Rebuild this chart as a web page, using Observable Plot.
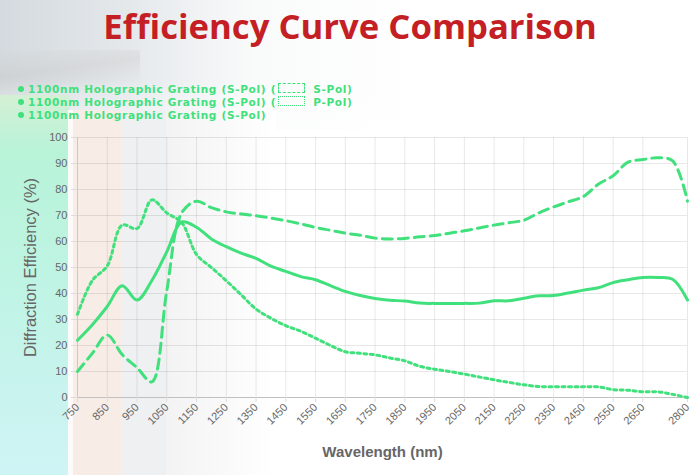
<!DOCTYPE html>
<html>
<head>
<meta charset="utf-8">
<script src="https://cdn.jsdelivr.net/npm/d3@7"></script>
<script src="https://cdn.jsdelivr.net/npm/@observablehq/plot@0.6"></script>
<style>
  html, body { margin: 0; padding: 0; }
  body { width: 700px; height: 475px; position: relative; overflow: hidden; background: #fff; font-family: "Open Sans", sans-serif; }
  .bg { position: absolute; }
  #title { position: absolute; left: 0; width: 700px; top: 4px; text-align: center; color: #c51f26; font-weight: 700; font-size: 34.7px; line-height: 44px; }
  #legend { position: absolute; left: 18px; top: 83px; color: #40e07c; font-family: "DejaVu Sans", sans-serif; font-weight: 700; font-size: 10.5px; letter-spacing: 0.7px; line-height: 13px; }
  #legend .row { white-space: nowrap; height: 13px; line-height: 13px; }
  #legend .dot { display: inline-block; width: 6px; height: 6px; border-radius: 50%; background: #40e07c; margin-right: 4px; vertical-align: 1px; }
  #legend .box { display: inline-block; width: 25px; height: 8px; margin: 0 8px 0 2px; vertical-align: 0px; }
  #chart { position: absolute; left: 0; top: 130px; }
</style>
</head>
<body>
<div class="bg" style="left:0;top:0;width:420px;height:130px;background:linear-gradient(to right,#d4dadf 0%,#e4e8eb 30%,#f9fafa 60%,rgba(255,255,255,0) 100%);"></div>
<div class="bg" style="left:0;top:0;width:420px;height:130px;background:linear-gradient(to bottom,rgba(255,255,255,0) 0%,rgba(255,255,255,0) 60%,rgba(255,255,255,0.6) 100%);"></div>
<div class="bg" style="left:0;top:50px;width:140px;height:50px;background:linear-gradient(172deg,rgba(255,255,255,0) 0%,rgba(185,180,175,0.22) 40%,rgba(255,255,255,0) 75%);"></div>
<div class="bg" style="left:0;top:95px;width:70px;height:380px;background:linear-gradient(to bottom,#d4f0d4 0%,#b8f3d8 15%,#bff4e4 50%,#c9f3ef 80%,#cff4f5 100%);"></div>
<div class="bg" style="left:68px;top:110px;width:5px;height:365px;background:#fdfbfa;"></div>
<div class="bg" style="left:73px;top:110px;width:48px;height:365px;background:#f8ece7;"></div>
<div class="bg" style="left:121px;top:110px;width:45px;height:365px;background:#eff0f2;"></div>
<div class="bg" style="left:166px;top:110px;width:110px;height:365px;background:linear-gradient(to right,#f3f3f4,#ffffff);"></div>

<div id="title">Efficiency Curve Comparison</div>
<div id="legend"></div>
<div id="chart"></div>

<script>
const wavelengths = [750,800,850,900,950,1000,1050,1100,1150,1200,1250,1300,1350,1400,1450,1500,1550,1600,1650,1700,1750,1800,1850,1900,1950,2000,2050,2100,2150,2200,2250,2300,2350,2400,2450,2500,2550,2600,2650,2700,2750,2800];

// dashed series (S-Pol)
const sPolValues = [10,17,24,16.5,11.5,6,41,71,75.5,73,71.4,70.6,69.9,69,68,66.8,65.4,64.3,63.2,62.4,61.3,61,61.2,61.8,62.3,63.2,64.1,65.2,66.3,67.2,68.2,71,73.3,75.3,77.3,82,85.3,90.5,91.5,92.2,91,75.5];

// dotted series (P-Pol)
const pPolValues = [32,45,50.6,66.3,65,76,71,67.3,55,50,44.9,39.5,34,30.5,27.6,25.5,22.8,20,17.6,17,16.4,15.2,14.1,12,10.9,10,9,7.9,6.8,5.8,4.9,4.2,4.1,4.1,4.1,4.1,3,2.8,2.2,2.2,1.2,0];

// solid series
const avgValues = [22,28,35,43,37.5,45,56,67.5,65.5,61,58,55.5,53.5,50.5,48.5,46.5,45.3,43,40.8,39.2,38.1,37.4,37.1,36.3,36.2,36.2,36.2,36.3,37.2,37.2,38.2,39.1,39.2,40.2,41.3,42.2,44.2,45.3,46.2,46.2,45.5,37.5];

const xTicks = [750,850,950,1050,1150,1250,1350,1450,1550,1650,1750,1850,1950,2050,2150,2250,2350,2450,2550,2650,2800];
const yTicks = [0,10,20,30,40,50,60,70,80,90,100];

const legendLabels = [
  {text: "1100nm Holographic Grating (S-Pol) (", box: "dashed", after: "S-Pol)"},
  {text: "1100nm Holographic Grating (S-Pol) (", box: "dotted", after: "P-Pol)"},
  {text: "1100nm Holographic Grating (S-Pol)", box: null, after: ""}
];

const xLabel = "Wavelength (nm)";
const yLabel = "Diffraction Efficiency (%)";

const green = "#40e07c";

const toRows = (vals) => wavelengths.map((w, i) => ({w, v: vals[i]}));

const legend = document.getElementById("legend");
for (const l of legendLabels) {
  const row = document.createElement("div");
  row.className = "row";
  const dot = document.createElement("span"); dot.className = "dot"; row.appendChild(dot);
  row.appendChild(document.createTextNode(l.text));
  if (l.box) {
    const b = document.createElement("span");
    b.className = "box";
    b.style.border = "1px " + l.box + " " + green;
    row.appendChild(b);
    row.appendChild(document.createTextNode(l.after));
  }
  legend.appendChild(row);
}

const chart = Plot.plot({
  width: 700,
  height: 345,
  marginLeft: 77,
  marginRight: 13,
  marginTop: 7,
  marginBottom: 78,
  x: {type: "linear", domain: [750, 2800]},
  y: {domain: [0, 100]},
  style: {background: "transparent", fontFamily: "'Liberation Sans', Arial, sans-serif", fontSize: "11px", color: "#666", overflow: "visible"},
  marks: [
    Plot.gridX(xTicks, {stroke: "#000", strokeOpacity: 0.09}),
    Plot.gridY(yTicks, {stroke: "#000", strokeOpacity: 0.09}),
    Plot.ruleX([750], {stroke: "#c8c8c8"}),
    Plot.ruleY([0], {stroke: "#c0c0c0"}),
    Plot.axisY(yTicks, {tickSize: 6, tickPadding: 4, stroke: "#ddd", fill: "#666", label: null}),
    Plot.axisX(xTicks, {tickRotate: -45, tickSize: 5, tickPadding: 3, stroke: "#ddd", fill: "#666", label: null, tickFormat: d => String(d)}),
    Plot.line(toRows(pPolValues), {x: "w", y: "v", stroke: green, strokeWidth: 3, strokeDasharray: "3,3.5", curve: "catmull-rom"}),
    Plot.line(toRows(sPolValues), {x: "w", y: "v", stroke: green, strokeWidth: 3, strokeDasharray: "10,6", curve: "catmull-rom"}),
    Plot.line(toRows(avgValues), {x: "w", y: "v", stroke: green, strokeWidth: 3, curve: "catmull-rom"}),
    Plot.text([xLabel], {frameAnchor: "bottom", dy: 59, fontSize: 15, fontWeight: "bold", fill: "#666"}),
    Plot.text([yLabel], {frameAnchor: "left", textAnchor: "middle", dx: -47, rotate: -90, fontSize: 16.5, fill: "#666"})
  ]
});
document.getElementById("chart").appendChild(chart);
</script>
</body>
</html>
